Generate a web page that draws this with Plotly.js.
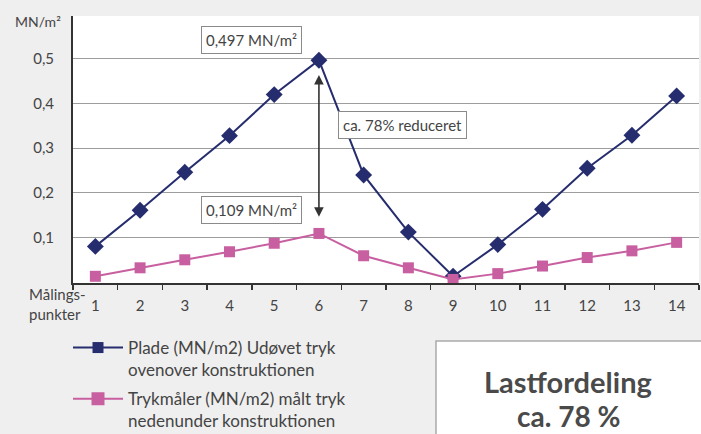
<!DOCTYPE html>
<html>
<head>
<meta charset="utf-8">
<script src="https://cdn.plot.ly/plotly-3.0.1.min.js"></script>
<style>
html,body{margin:0;padding:0;background:#efefef;}
#chart{width:701px;height:434px;}
</style>
</head>
<body>
<div id="chart"></div>
<script>
// ---- data ----
var categories = ["1","2","3","4","5","6","7","8","9","10","11","12","13","14"];
var pladeValues = [0.080, 0.161, 0.246, 0.328, 0.420, 0.497, 0.240, 0.112, 0.013, 0.084, 0.163, 0.255, 0.329, 0.417];
var trykmaalerValues = [0.013, 0.032, 0.050, 0.068, 0.087, 0.109, 0.059, 0.032, 0.006, 0.019, 0.036, 0.055, 0.070, 0.089];
var yTickValues = [0.1, 0.2, 0.3, 0.4, 0.5];
var yTickLabels = ["0,1", "0,2", "0,3", "0,4", "0,5"];
var seriesNames = ["Plade (MN/m2) Udøvet tryk<br>ovenover konstruktionen",
                   "Trykmåler (MN/m2) målt tryk<br>nedenunder konstruktionen"];
var peakLabel = "0,497 MN/m²";
var lowLabel = "0,109 MN/m²";
var reductionLabel = "ca. 78% reduceret";

var FONT = "Lato, 'Open Sans', sans-serif";
var TXT = "#444444";
var BLUE = "#262d6e";
var PINK = "#c85fa0";

var traces = [
  {
    x: categories, y: pladeValues, name: seriesNames[0], legendgroup: "g1", showlegend: false,
    type: "scatter", mode: "lines+markers",
    line: {color: BLUE, width: 2},
    marker: {symbol: "diamond", size: 13, color: BLUE}
  },
  {
    x: categories, y: trykmaalerValues, name: seriesNames[1], legendgroup: "g2", showlegend: false,
    type: "scatter", mode: "lines+markers",
    line: {color: PINK, width: 2},
    marker: {symbol: "square", size: 11, color: PINK}
  },
  // legend-only entries (the original legend shows square keys for both series)
  {
    x: [null], y: [null], name: seriesNames[0], legendgroup: "g1", showlegend: true,
    type: "scatter", mode: "lines+markers",
    line: {color: BLUE, width: 2},
    marker: {symbol: "square", size: 11, color: BLUE}
  },
  {
    x: [null], y: [null], name: seriesNames[1], legendgroup: "g2", showlegend: true,
    type: "scatter", mode: "lines+markers",
    line: {color: PINK, width: 2},
    marker: {symbol: "square", size: 13, color: PINK}
  }
];

var boxStyle = {bgcolor: "#ffffff", bordercolor: "#8a8a8a", borderwidth: 1, borderpad: 4,
                font: {family: FONT, size: 15, color: TXT}, showarrow: false,
                xanchor: "center", yanchor: "middle"};

function px(xp) { return (xp - 73) / 626; }
function py(yp) { return (283 - yp) / 267; }

var layout = {
  width: 701, height: 434,
  margin: {l: 73, r: 2, t: 16, b: 151},
  paper_bgcolor: "#efefef",
  plot_bgcolor: "#ffffff",
  font: {family: FONT, color: TXT},
  showlegend: true,
  legend: {
    xref: "paper", yref: "container",
    x: px(68), y: 1 - 330 / 434, xanchor: "left", yanchor: "top",
    bgcolor: "rgba(0,0,0,0)",
    font: {family: FONT, size: 17, color: TXT},
    itemwidth: 50, valign: "top", tracegroupgap: 4
  },
  xaxis: {
    type: "category",
    range: [-0.5, 13.5],
    tickson: "boundaries",
    ticks: "outside", ticklen: 5, tickwidth: 1.5, tickcolor: "#333333",
    showline: true, linecolor: "#333333", linewidth: 2,
    showgrid: false, zeroline: false,
    tickfont: {family: FONT, size: 15, color: TXT},
    ticklabelstandoff: 8,
    automargin: false,
    fixedrange: true
  },
  yaxis: {
    range: [-0.002, 0.596],
    tickmode: "array", tickvals: yTickValues, ticktext: yTickLabels,
    ticks: "", showline: true, linecolor: "#333333", linewidth: 2,
    showgrid: true, gridcolor: "#9d9d9d", gridwidth: 1,
    zeroline: false,
    tickfont: {family: FONT, size: 15, color: TXT},
    ticklabelstandoff: 14,
    automargin: false,
    fixedrange: true
  },
  shapes: [
    {type: "rect", xref: "paper", yref: "paper",
     x0: px(436), x1: 1.2, y0: py(341), y1: -1.2,
     fillcolor: "#ffffff", line: {color: "#aaaaaa", width: 1.5}}
  ],
  annotations: [
    Object.assign({}, boxStyle, {xref: "x", yref: "y", x: 3.5, y: 0.5426, text: peakLabel}),
    Object.assign({}, boxStyle, {xref: "x", yref: "y", x: 3.5, y: 0.161, text: lowLabel}),
    Object.assign({}, boxStyle, {xref: "x", yref: "y", x: 6.87, y: 0.352, text: reductionLabel}),
    {xref: "x", yref: "y", x: 5, y: pladeValues[5] - 0.033, axref: "x", ayref: "y",
     ax: 5, ay: trykmaalerValues[5] + 0.034, text: "", showarrow: true,
     arrowhead: 2, startarrowhead: 2, arrowside: "end+start", arrowsize: 1.2,
     arrowwidth: 1.6, arrowcolor: "#333333"},
    {xref: "paper", yref: "paper", x: px(37.5), y: py(21), xanchor: "center", yanchor: "middle",
     text: "MN/m²", showarrow: false, font: {family: FONT, size: 14, color: TXT}},
    {xref: "paper", yref: "paper", x: px(27), y: py(304), xanchor: "left", yanchor: "middle",
     align: "left",
     text: "Målings-<br>punkter", showarrow: false, font: {family: FONT, size: 15, color: TXT}},
    {xref: "paper", yref: "paper", x: px(568), y: py(381), xanchor: "center", yanchor: "middle",
     text: "Lastfordeling", showarrow: false,
     font: {family: FONT, size: 29, color: "#4a4a4a", weight: "bold"}},
    {xref: "paper", yref: "paper", x: px(568), y: py(416), xanchor: "center", yanchor: "middle",
     text: "ca. 78 %", showarrow: false,
     font: {family: FONT, size: 28, color: "#4a4a4a", weight: "bold"}}
  ]
};

Plotly.newPlot("chart", traces, layout, {displayModeBar: false, staticPlot: true});
</script>
</body>
</html>
